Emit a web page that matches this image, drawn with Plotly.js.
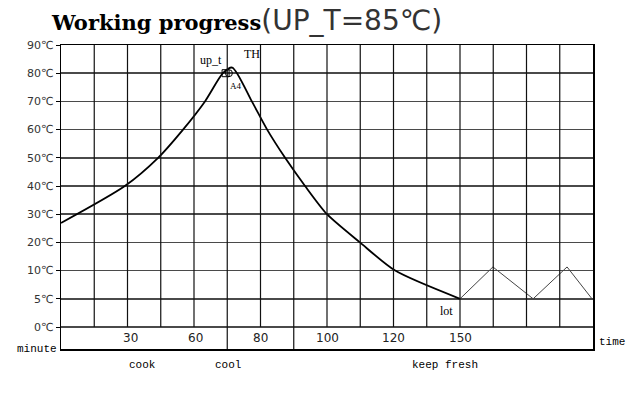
<!DOCTYPE html>
<html>
<head>
<meta charset="utf-8">
<script src="https://cdn.plot.ly/plotly-3.0.1.min.js"></script>
<style>html,body{margin:0;padding:0;background:#fff;}#chart{width:643px;height:395px;}</style>
</head>
<body>
<div id="chart"></div>
<script>
// ---- data (x in grid columns of the schematic, y in °C) ----
var curveX   = [0, 1.92, 2.92, 3.67, 4.33, 4.87, 5.15, 5.74, 6.20, 6.74, 7.34, 8.0, 8.99, 10.05, 12.0];
var curveT   = [26.9, 40, 50, 60, 70, 80, 82, 70, 60, 50, 40, 30, 20, 10, 5];
var freshX   = [12.0, 12.99, 14.2, 15.22, 15.97];
var freshT   = [5, 11.3, 5, 11.3, 5];
var markX    = [4.95];
var markT    = [80];
var yTickTemps  = [0, 5, 10, 20, 30, 40, 50, 60, 70, 80, 90];
var yTickLabels = ['0℃','5℃','10℃','20℃','30℃','40℃','50℃','60℃','70℃','80℃','90℃'];
var xTickPos    = [2.1, 4.05, 6, 8, 10, 12];
var xTickLabels = ['30','60','80','100','120','150'];
var phaseNames  = ['cook', 'cool', 'keep fresh'];
var phasePos    = [2.44, 5.02, 11.55];
var pointNotes  = ['up_t', 'TH', 'A4', 'lot'];
var noteX       = [4.51, 5.74, 5.26, 11.58];
var noteT       = [84.7, 86.8, 75.5, 2.85];

// non-linear temperature scale of the drawing: 0,5,10 then 10° per row
function tRow(t){ return t <= 10 ? t/5 : 1 + t/10; }
var rows = function(a){ return a.map(tRow); };

var NCOL = 16, BOT = -0.78;
var shapes = [];
for (var c = 1; c < NCOL; c++) {
  var y0 = (c === 5 || c === 7) ? BOT : 0;
  shapes.push({type:'line', xref:'x', yref:'y', x0:c, x1:c, y0:y0, y1:10,
               line:{color:'#111', width:1.2}});
}

var traces = [
  {x: curveX, y: rows(curveT), mode:'lines', line:{color:'#000', width:1.8, shape:'spline', smoothing:0.7}, hoverinfo:'skip'},
  {x: freshX, y: rows(freshT), mode:'lines', line:{color:'#444', width:1}, hoverinfo:'skip'},
  {x: markX, y: rows(markT), mode:'markers', marker:{symbol:'square-open', size:7, color:'#000', line:{width:1}}, hoverinfo:'skip'},
  {x: markX.map(function(v){return v+0.1;}), y: rows(markT), mode:'markers', marker:{symbol:'circle-open', size:7, color:'#000', line:{width:1}}, hoverinfo:'skip'}
];

var ann = [];
xTickPos.forEach(function(p, i){
  ann.push({x:p, y:BOT/2, xref:'x', yref:'y', text:xTickLabels[i], showarrow:false,
            font:{family:'DejaVu Sans', size:12, color:'#222'}});
});
phaseNames.forEach(function(n, i){
  ann.push({x:phasePos[i], y:-0.053, xref:'x', yref:'paper', yanchor:'middle', text:n, showarrow:false,
            font:{family:'Liberation Mono', size:11, color:'#000'}});
});
pointNotes.forEach(function(n, i){
  ann.push({x:noteX[i], y:tRow(noteT[i]), xref:'x', yref:'y', text:n, showarrow:false,
            font:{family:'Liberation Serif', size: n === 'A4' ? 9 : 12, color:'#000'}});
});
ann.push({x:0, y:0, xref:'paper', yref:'paper', xanchor:'right', yanchor:'middle', xshift:-2,
          text:'minute', showarrow:false, font:{family:'Liberation Mono', size:11, color:'#000'}});
ann.push({x:1, y:BOT*0.68, xref:'paper', yref:'y', xanchor:'left', xshift:4,
          text:'time', showarrow:false, font:{family:'Liberation Mono', size:11, color:'#000'}});

var layout = {
  width:643, height:395,
  margin:{l:61, r:50, t:45, b:46},
  paper_bgcolor:'#fff', plot_bgcolor:'#fff',
  showlegend:false,
  title:{
    text:'<b>Working progress</b><span style="font-family:\'DejaVu Sans\';font-size:28px;font-weight:normal;fill:#333">(UP_T=85℃)</span>',
    font:{family:'DejaVu Serif', size:21, color:'#000'},
    x:52/643, xanchor:'left', xref:'container',
    y:1-23/395, yanchor:'middle', yref:'container'
  },
  xaxis:{range:[0, NCOL], showgrid:false, zeroline:false, showticklabels:false, ticks:'',
         showline:true, mirror:true, linecolor:'#000', linewidth:1.5, fixedrange:true},
  yaxis:{range:[BOT, 10], tickvals: yTickTemps.map(tRow), ticktext: yTickLabels,
         showgrid:true, gridcolor:'#4a4a4a', gridwidth:1.5, zeroline:false,
         ticks:'outside', ticklen:4, tickcolor:'#000',
         showline:true, mirror:true, linecolor:'#000', linewidth:1.5,
         tickfont:{family:'DejaVu Sans', size:11, color:'#333'}, fixedrange:true},
  shapes: shapes,
  annotations: ann
};

Plotly.newPlot('chart', traces, layout, {staticPlot:true, displayModeBar:false});
</script>
</body>
</html>
